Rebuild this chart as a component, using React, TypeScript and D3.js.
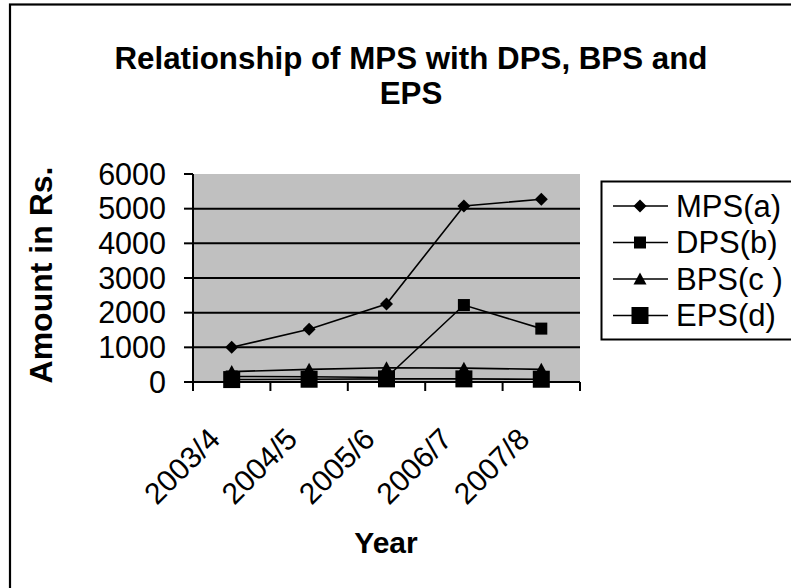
import React from "react";
import * as d3 from "d3";

const years = ["2003/4", "2004/5", "2005/6", "2006/7", "2007/8"];
const mps = [1000, 1520, 2250, 5080, 5270];
const dps = [160, 150, 130, 2220, 1540];
const bps = [300, 365, 410, 400, 365];
const eps = [70, 80, 90, 90, 80];
const yTicks = [0, 1000, 2000, 3000, 4000, 5000, 6000];
const seriesNames = ["MPS(a)", "DPS(b)", "BPS(c )", "EPS(d)"];

const W = 791;
const H = 588;
const FONT = "'Liberation Sans', Arial, sans-serif";

const plot = { left: 193, right: 580, top: 174, bottom: 382 };

type Shape = "diamond" | "square" | "triangle" | "bigsquare";

function Marker({ x, y, shape }: { x: number; y: number; shape: Shape }) {
  if (shape === "diamond") {
    const r = 6.5;
    return <path d={`M${x},${y - r}L${x + r},${y}L${x},${y + r}L${x - r},${y}Z`} fill="#000" />;
  }
  if (shape === "square") {
    const s = 6;
    return <rect x={x - s} y={y - s} width={2 * s} height={2 * s} fill="#000" />;
  }
  if (shape === "bigsquare") {
    const s = 8.5;
    return <rect x={x - s} y={y - s} width={2 * s} height={2 * s} fill="#000" />;
  }
  const h = 6.5;
  return <path d={`M${x},${y - h}L${x + 6.5},${y + h - 1}L${x - 6.5},${y + h - 1}Z`} fill="#000" />;
}

export default function App() {
  const x = d3.scaleBand<string>().domain(years).range([plot.left, plot.right]);
  const y = d3.scaleLinear().domain([0, 6000]).range([plot.bottom, plot.top]);
  const cx = (d: string) => (x(d) as number) + x.bandwidth() / 2;

  const line = d3
    .line<number>()
    .x((_, i) => cx(years[i]))
    .y((v) => y(v));

  const series: { name: string; values: number[]; shape: Shape }[] = [
    { name: seriesNames[0], values: mps, shape: "diamond" },
    { name: seriesNames[1], values: dps, shape: "square" },
    { name: seriesNames[2], values: bps, shape: "triangle" },
    { name: seriesNames[3], values: eps, shape: "bigsquare" },
  ];

  const boundaries = [...years.map((d) => x(d) as number), plot.right];

  return (
    <svg
      width={W}
      height={H}
      style={{ position: "absolute", left: 0, top: 0, background: "#fff" }}
      fontFamily={FONT}
    >
      {/* chart frame */}
      <rect x={10} y={4.5} width={W + 20} height={H + 20} fill="none" stroke="#000" strokeWidth={2.2} />

      {/* title */}
      <text x={411} y={69} textAnchor="middle" fontSize={31.3} fontWeight="bold">
        Relationship of MPS with DPS, BPS and
      </text>
      <text x={411} y={104} textAnchor="middle" fontSize={31.3} fontWeight="bold">
        EPS
      </text>

      {/* plot area */}
      <rect
        x={plot.left}
        y={plot.top}
        width={plot.right - plot.left}
        height={plot.bottom - plot.top}
        fill="#C0C0C0"
      />
      {yTicks
        .filter((t) => t > 0 && t < 6000)
        .map((t) => (
          <line key={t} x1={plot.left} x2={plot.right} y1={y(t)} y2={y(t)} stroke="#000" strokeWidth={2} />
        ))}

      {/* y axis */}
      <line x1={plot.left} x2={plot.left} y1={plot.top} y2={plot.bottom + 9} stroke="#000" strokeWidth={2} />
      {yTicks.map((t) => (
        <g key={t}>
          <line x1={plot.left - 9} x2={plot.left} y1={y(t)} y2={y(t)} stroke="#000" strokeWidth={2} />
          <text x={166} y={y(t) + 10.5} textAnchor="end" fontSize={30.5}>
            {t}
          </text>
        </g>
      ))}
      <text
        transform={`translate(52,275) rotate(-90)`}
        textAnchor="middle"
        fontSize={32}
        fontWeight="bold"
      >
        Amount in Rs.
      </text>

      {/* x axis */}
      <line x1={plot.left} x2={plot.right} y1={plot.bottom} y2={plot.bottom} stroke="#000" strokeWidth={2} />
      {boundaries.map((b, i) => (
        <line key={i} x1={b} x2={b} y1={plot.bottom} y2={plot.bottom + 9} stroke="#000" strokeWidth={2} />
      ))}
      {years.map((d) => (
        <text
          key={d}
          transform={`translate(${cx(d) - 10},${441}) rotate(-45)`}
          textAnchor="end"
          fontSize={30}
        >
          {d}
        </text>
      ))}
      <text x={386} y={553} textAnchor="middle" fontSize={30} fontWeight="bold">
        Year
      </text>

      {/* series */}
      {series.map((s) => (
        <g key={s.name}>
          <path d={line(s.values) as string} fill="none" stroke="#000" strokeWidth={1.6} />
          {s.values.map((v, i) => (
            <Marker key={i} x={cx(years[i])} y={y(v)} shape={s.shape} />
          ))}
        </g>
      ))}

      {/* legend */}
      <rect x={601.5} y={181.5} width={220} height={158} fill="#fff" stroke="#000" strokeWidth={2} />
      {series.map((s, i) => {
        const ly = 206 + i * 36.5;
        return (
          <g key={s.name}>
            <line x1={613} x2={668} y1={ly} y2={ly} stroke="#000" strokeWidth={1.6} />
            <Marker x={640} y={ly} shape={s.shape} />
            <text x={676} y={ly + 10.8} fontSize={31}>
              {s.name}
            </text>
          </g>
        );
      })}
    </svg>
  );
}
